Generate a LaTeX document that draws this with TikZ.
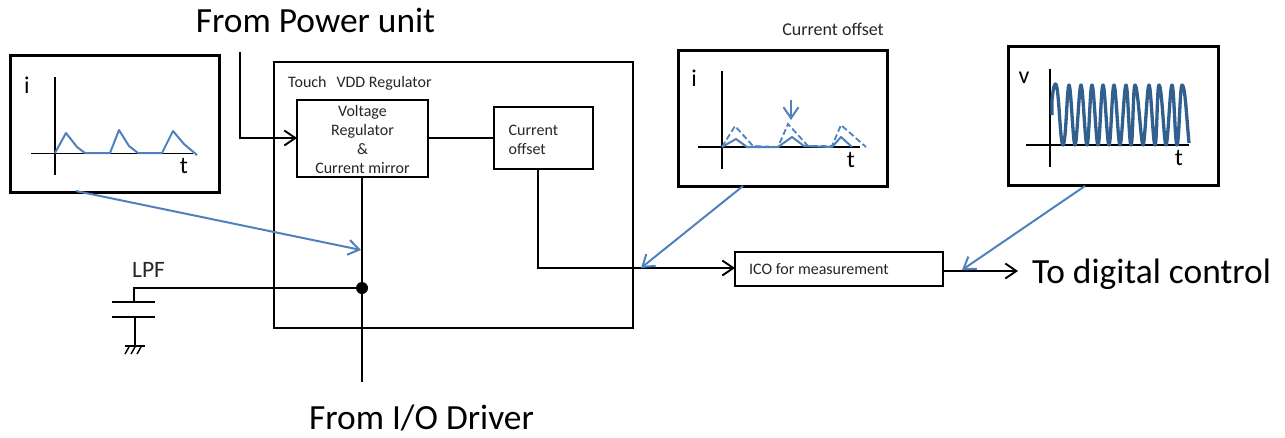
\documentclass[tikz,border=0pt]{standalone}
\usepackage{fontspec}
\setmainfont{Carlito}
\usetikzlibrary{arrows.meta}
\definecolor{wave}{HTML}{4F81BD}
\definecolor{wavedark}{HTML}{31608F}
\definecolor{txt}{HTML}{262626}
\tikzset{
  x=1pt,y=-1pt,
  wire/.style={draw=black,line width=1.9pt},
  thin wire/.style={draw=black,line width=1.4pt},
  wirearrow/.style={wire,-{Straight Barb[length=11pt,width=15pt,line width=1.9pt]}},
  bluearrow/.style={draw=wave,line width=2pt,-{Straight Barb[length=11pt,width=15pt,line width=2pt]}},
  box/.style={draw=black,line width=1.9pt,fill=white,inner sep=0pt,outer sep=0pt,anchor=north west},
  frame/.style={draw=black,line width=3pt,fill=white,inner sep=0pt,outer sep=0pt,anchor=north west},
  big/.style={font=\fontsize{35.4}{38}\selectfont,text=black,inner sep=0pt},
  small/.style={font=\fontsize{16}{19}\selectfont,text=txt,inner sep=0pt},
  axis label/.style={font=\fontsize{24}{25}\selectfont,text=black,inner sep=0pt},
  pulse/.style={draw=wave,line width=2pt,line join=round},
  dashpulse/.style={draw=wave,line width=1.8pt,dash pattern=on 6pt off 3pt},
}
\begin{document}
\begin{tikzpicture}
\useasboundingbox (0,0) rectangle (1285,437);
% outer block
\node[box,minimum width=359pt,minimum height=266pt] (outer) at (274,62) {};
% junction and free ends
\coordinate (pwr) at (240,52);
\coordinate (pwrc) at (240,138);
\coordinate (io) at (362,382);
\node[circle,fill=black,inner sep=0pt,minimum size=12pt] (dot) at (362,288) {};
\coordinate (lpfc) at (134,288);
\coordinate (p1) at (134,302);
\coordinate (p2) at (135,317);
\coordinate (gnd) at (135,346);
% blocks
\node[box,minimum width=131pt,minimum height=77pt] (vr) at (297,100) {};
\node[small,align=center] (vrt) at (362.5,139) {Voltage\\Regulator\\\&\\Current mirror};
\node[box,minimum width=99pt,minimum height=62pt] (co) at (494,107) {};
\node[small,align=left,anchor=west] (cot) at (508.5,140) {Current\\offset};
\node[box,minimum width=208pt,minimum height=34pt] (ico) at (735,252) {};
\node[small,anchor=west] (icot) at (749,269) {ICO for measurement};
\coordinate (vrin) at (297,138);
\coordinate (vrout) at (428,138);
\coordinate (coin) at (494,138);
\coordinate (coout) at (538,169);
\coordinate (coturn) at (538,268);
\coordinate (icoin) at (735,268);
\coordinate (icoout) at (943,271);
\coordinate (dig) at (1018,271);
\coordinate (vrbot) at (362,177);
% wires
\draw[wirearrow] (pwr) -- (pwrc) -- (vrin);
\draw[wire] (vrout) -- (coin);
\draw[wire] (vrbot) -- (dot) -- (io);
\draw[wirearrow] (coout) -- (coturn) -- (icoin);
\draw[wirearrow] (icoout) -- (dig);
\draw[wire] (dot) -- (lpfc) -- (p1);
\draw[wire] (112,302) -- (155,302);
\draw[wire] (112,317) -- (155,317);
\draw[wire] (p2) -- (gnd);
\draw[wire] (125,346) -- (145,346);
\draw[thin wire] (129,347) -- (125,354) (135,347) -- (131,354) (141,347) -- (137,354);
% texts
\node[big] (t1) at (315.5,20) {From Power unit};
\node[big] (t2) at (421.5,418) {From I/O Driver};
\node[big,anchor=west] (t3) at (1032,274) {To digital control};
\node[font=\fontsize{23.5}{25}\selectfont,text=txt,inner sep=0pt,anchor=west] (lpf) at (132,270) {LPF};
\node[small,anchor=west] (touch) at (288,83) {Touch\hspace{10pt}VDD Regulator};
\node[font=\fontsize{18}{20}\selectfont,text=txt,inner sep=0pt] (cotop) at (833,29) {Current offset};
% inset 1
\node[frame,minimum width=209pt,minimum height=137pt] (f1) at (10,55) {};
\node[axis label] (i1) at (27,85) {i};
\node[axis label] (t1x) at (184,166) {t};
\draw[wire] (55,77) -- (55,175);
\draw[wire] (31,153.5) -- (193,153.5);
\draw[pulse] (55,153) -- (66,133) -- (77,147) -- (85,153) -- (110,153) -- (119,130) -- (129,146) -- (138,153) -- (162,153) -- (173,131) -- (184,144) -- (197,155);
% inset 2
\node[frame,minimum width=209pt,minimum height=136pt] (f2) at (678,50) {};
\node[axis label] (i2) at (694,78) {i};
\node[axis label] (t2x) at (851,160) {t};
\draw[wire] (722,71) -- (722,169);
\draw[wire] (698,147) -- (860,147);
\draw[dashpulse] (722,147) -- (735,126) -- (753,146) -- (778,147) -- (788,124) -- (808,146) -- (832,146) -- (841,125) -- (866,147);
\draw[pulse] (722,147) -- (736,139) -- (747,147) -- (778,147) -- (792,137) -- (804,146) -- (832,147) -- (841,137) -- (852,147);
\coordinate (oa) at (791,100);
\coordinate (ob) at (791,120);
\draw[bluearrow] (oa) -- (ob);
% inset 3
\node[frame,minimum width=210pt,minimum height=139pt] (f3) at (1008,46) {};
\node[axis label] (v3) at (1024,78) {v};
\node[axis label] (t3x) at (1179,158) {t};
\draw[wire] (1050,69) -- (1050,167);
\draw[wire] (1026,145) -- (1189,145);
\draw[draw=wavedark,line width=3.3pt,line join=round] (1052,115) -- (1052,100)
  .. controls (1053,90) and (1054,84) .. (1055.5,84)
  .. controls (1059,84) and (1060,145) .. (1063,145)
  .. controls (1066,145) and (1067,85) .. (1069,85)
  .. controls (1071,85) and (1073,145) .. (1075,145)
  .. controls (1077,145) and (1079,85) .. (1081,85)
  .. controls (1083,85) and (1085,145) .. (1087,145)
  .. controls (1089,145) and (1090,85) .. (1092,85)
  .. controls (1094,85) and (1096,145) .. (1098,145)
  .. controls (1100,145) and (1101,85) .. (1103,85)
  .. controls (1105,85) and (1107,145) .. (1109,145)
  .. controls (1111,145) and (1112,85) .. (1114,85)
  .. controls (1116,85) and (1118,145) .. (1120,145)
  .. controls (1122,145) and (1124,85) .. (1126,85)
  .. controls (1128,85) and (1129,145) .. (1131,145)
  .. controls (1133,145) and (1133,85) .. (1135,85)
  .. controls (1138,85) and (1141,145) .. (1143,145)
  .. controls (1145,145) and (1147,85) .. (1149,85)
  .. controls (1151,85) and (1153,145) .. (1155,145)
  .. controls (1157,145) and (1157,85) .. (1159,85)
  .. controls (1162,85) and (1164,145) .. (1166,145)
  .. controls (1168,145) and (1170,85) .. (1172,85)
  .. controls (1174,85) and (1175,145) .. (1177,145)
  .. controls (1179,145) and (1180,85) .. (1182,85)
  .. controls (1185,85) and (1186,110) .. (1189,143);
% blue pointers
\coordinate (a1) at (76,191);
\coordinate (a1e) at (361,250);
\coordinate (a2) at (743,186);
\coordinate (a2e) at (641,268);
\coordinate (a3) at (1085,186);
\coordinate (a3e) at (962,270);
\draw[bluearrow] (a1) -- (a1e);
\draw[bluearrow] (a2) -- (a2e);
\draw[bluearrow] (a3) -- (a3e);
\end{tikzpicture}
\end{document}
